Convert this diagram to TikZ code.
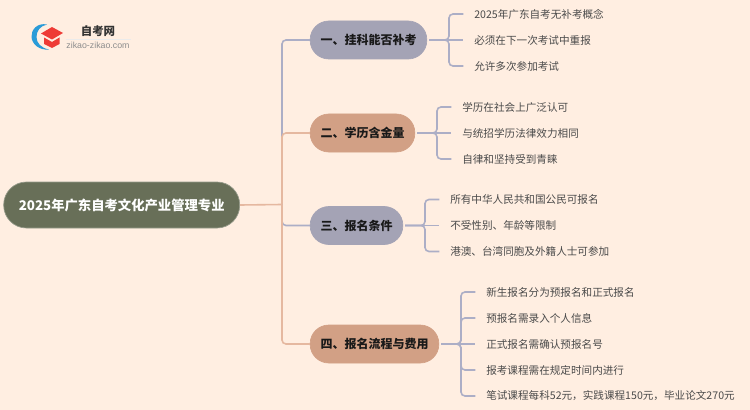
\documentclass[tikz,border=0pt]{standalone}
\usepackage{fontspec}
\setmainfont{Noto Sans CJK SC}
\newfontfamily\latinf{Liberation Sans}
\definecolor{bgc}{HTML}{FFEEE1}
\definecolor{rootc}{HTML}{686F58}
\definecolor{greyb}{HTML}{A4A3B5}
\definecolor{tanb}{HTML}{D2A085}
\definecolor{lblue}{HTML}{ACAEC6}
\definecolor{lorange}{HTML}{E5B8A0}
\definecolor{txt}{HTML}{4A4A4A}
\definecolor{logoblue}{HTML}{2A9BD8}
\definecolor{logored}{HTML}{EE3B36}
\tikzset{
  x=0.75pt,y=-0.75pt,
  rootbox/.style={rounded corners=17pt,fill=rootc,draw=rootc!70!white,line width=.5pt,text=white,font=\fontsize{10pt}{12pt}\selectfont\bfseries,inner sep=0pt,minimum height=34.5pt,minimum width=177pt},
  branchbox/.style={rounded corners=14pt,line width=.5pt,text=black!90,font=\fontsize{9pt}{12pt}\selectfont\bfseries,inner sep=0pt,minimum height=28.5pt},
  leaf/.style={anchor=west,text=txt,font=\fontsize{7.95pt}{10pt}\selectfont,inner sep=0pt},
  linkb/.style={draw=lblue,line width=1.2pt,rounded corners=3pt},
  linko/.style={draw=lorange,line width=1.2pt,rounded corners=3pt}
}
\begin{document}
\begin{tikzpicture}
\useasboundingbox (0,0) rectangle (750,410);
\fill[bgc] (0,0) rectangle (750,410);
% logo
\fill[logoblue] (47,24.5) .. controls (37,22.5) and (31,30) .. (31.5,37) .. controls (32,44) and (39,50.5) .. (49,49.5) .. controls (41,48) and (36.5,43) .. (36.5,37) .. controls (36.5,31) and (40,26) .. (47,24.5) -- cycle;
\fill[logored] (41,33.5) -- (52,27) -- (63,33) -- (52,39.5) -- cycle;
\fill[logored] (44,37.5) -- (52,42) -- (59.5,37.5) -- (59.5,44) -- (52,48) -- (44,44) -- cycle;
\draw[black!8,line width=.4pt] (66,39) -- (131,39);
\node[inner sep=0pt,font=\fontsize{8.6pt}{10pt}\selectfont\bfseries,text=black!80] (logot) at (98,31) {自考网};
\node[inner sep=0pt,font=\latinf\fontsize{6.6pt}{8pt}\selectfont,text=black!45] (logos) at (98,45) {zikao-zikao.com};
% nodes
\node[rootbox] (root) at (121.7,205) {2025年广东自考文化产业管理专业};
\node[branchbox,fill=greyb,draw=greyb,minimum width=87.5pt] (b1) at (368.5,40) {一、挂科能否补考};
\node[branchbox,fill=tanb,draw=tanb,minimum width=78.5pt] (b2) at (362.5,133) {二、学历含金量};
\node[branchbox,fill=greyb,draw=greyb,minimum width=69.5pt] (b3) at (356.5,225.5) {三、报名条件};
\node[branchbox,fill=tanb,draw=tanb,minimum width=96.5pt] (b4) at (374.5,344) {四、报名流程与费用};
\node[leaf] (l11) at (474,14) {2025年广东自考无补考概念};
\node[leaf] (l12) at (474,40) {必须在下一次考试中重报};
\node[leaf] (l13) at (474,66) {允许多次参加考试};
\node[leaf] (l21) at (462,107) {学历在社会上广泛认可};
\node[leaf] (l22) at (462,133) {与统招学历法律效力相同};
\node[leaf] (l23) at (462,159) {自律和坚持受到青睐};
\node[leaf] (l31) at (450,199.5) {所有中华人民共和国公民可报名};
\node[leaf] (l32) at (450,225.5) {不受性别、年龄等限制};
\node[leaf] (l33) at (450,251.5) {港澳、台湾同胞及外籍人士可参加};
\node[leaf] (l41) at (486,292) {新生报名分为预报名和正式报名};
\node[leaf] (l42) at (486,318) {预报名需录入个人信息};
\node[leaf] (l43) at (486,344) {正式报名需确认预报名号};
\node[leaf] (l44) at (486,370) {报考课程需在规定时间内进行};
\node[leaf] (l45) at (486,396) {笔试课程每科52元，实践课程150元，毕业论文270元};
% trunk connectors
\coordinate (t) at (282,204.5);
\draw[linkb] (t) -- (282,40) -- (b1.west);
\draw[linkb] (t) -- (282,225.5) -- (b3.west);
\draw[linko] (root.east) -- (t);
\draw[linko] (t) -- (282,133) -- (b2.west);
\draw[linko] (t) -- (282,344) -- (b4.west);
% leaf connectors
\foreach \b/\x/\l in {b1/449/l11,b1/449/l13,b2/437/l21,b2/437/l23,b3/425/l31,b3/425/l33,b4/461/l41,b4/461/l42,b4/461/l44,b4/461/l45}{
  \draw[linkb] ([xshift=1.5pt]\b.east) -- (\x,0 |- \b.east) -- (\x,0 |- \l.west) -- ([xshift=-8pt]\l.west);
}
\foreach \b/\l in {b1/l12,b2/l22,b3/l32,b4/l43}{
  \draw[linkb] ([xshift=1.5pt]\b.east) -- ([xshift=-8pt]\l.west);
}
\end{tikzpicture}
\end{document}
